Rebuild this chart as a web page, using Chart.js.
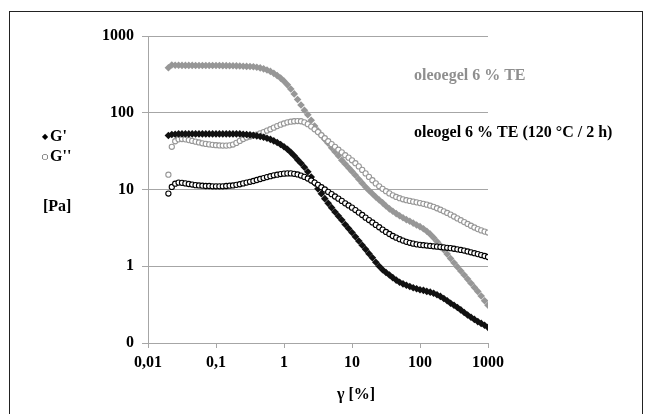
<!DOCTYPE html>
<html>
<head>
<meta charset="utf-8">
<script src="https://cdn.jsdelivr.net/npm/chart.js@4"></script>
<style>
  body { margin: 0; background: #fff; }
  #wrap { position: absolute; left: 0; top: 0; width: 645px; height: 414px; }
  #frame { position: absolute; left: 9px; top: 11px; width: 632px; height: 420px; border: 1px solid #222; }
</style>
</head>
<body>
<div id="frame"></div>
<div id="wrap"><canvas id="mycanvas"></canvas></div>
<script>
// strain amplitude gamma [%]
var strain = [0.01995, 0.02239, 0.02512, 0.02818, 0.03162, 0.03548, 0.03981, 0.04467, 0.05012, 0.05623,
	0.0631, 0.07079, 0.07943, 0.08913, 0.1, 0.1122, 0.1259, 0.1413, 0.1585, 0.1778,
	0.1995, 0.2239, 0.2512, 0.2818, 0.3162, 0.3548, 0.3981, 0.4467, 0.5012, 0.5623,
	0.631, 0.7079, 0.7943, 0.8913, 1, 1.122, 1.259, 1.413, 1.585, 1.778,
	1.995, 2.239, 2.512, 2.818, 3.162, 3.548, 3.981, 4.467, 5.012, 5.623,
	6.31, 7.079, 7.943, 8.913, 10, 11.22, 12.59, 14.13, 15.85, 17.78,
	19.95, 22.39, 25.12, 28.18, 31.62, 35.48, 39.81, 44.67, 50.12, 56.23,
	63.1, 70.79, 79.43, 89.13, 100, 112.2, 125.9, 141.3, 158.5, 177.8,
	199.5, 223.9, 251.2, 281.8, 316.2, 354.8, 398.1, 446.7, 501.2, 562.3,
	631, 707.9, 794.3, 891.3, 1000];

// oleoegel 6 % TE
var te_G1 = [385, 418, 416, 415, 414, 414, 414, 414, 413, 413,
	413, 413, 413, 412, 412, 412, 411, 411, 410, 409,
	408, 406, 404, 402, 400, 397, 392, 384, 373, 361,
	346, 326, 305, 283, 258, 231, 204, 176, 149, 126,
	108, 94, 80, 67, 58, 51, 45, 40, 35, 31,
	27.5, 24, 21.5, 19.2, 17.2, 15.3, 13.6, 12.1, 10.8, 9.7,
	8.8, 8.0, 7.3, 6.7, 6.1, 5.6, 5.2, 4.85, 4.55, 4.28,
	4.05, 3.85, 3.65, 3.45, 3.28, 3.08, 2.86, 2.62, 2.36, 2.10,
	1.86, 1.64, 1.44, 1.26, 1.11, 0.98, 0.87, 0.77, 0.68, 0.60,
	0.53, 0.47, 0.41, 0.355, 0.31];
var te_G2 = [15.6, 36, 42.5, 45, 45.5, 45, 44, 43, 42, 41,
	40, 39.3, 38.7, 38.2, 37.8, 37.5, 37.3, 37.3, 37.6, 38.5,
	40.5, 43, 45.5, 47.5, 49, 50.5, 52, 54, 56, 58.5,
	61, 64, 67, 70, 72.5, 75, 76.5, 77.5, 78, 77.5,
	75, 71, 66, 61, 56, 51, 46.5, 42.5, 39, 36,
	33, 30.5, 28, 26, 24, 22, 20, 18, 16.2, 14.6,
	13.2, 12, 11, 10.2, 9.5, 8.9, 8.4, 8.0, 7.7, 7.45,
	7.25, 7.1, 6.95, 6.8, 6.65, 6.5, 6.35, 6.15, 5.95, 5.7,
	5.45, 5.2, 4.95, 4.7, 4.45, 4.2, 3.98, 3.76, 3.56, 3.37,
	3.2, 3.05, 2.93, 2.83, 2.75];

// oleogel 6 % TE (120 °C / 2 h)
var ht_G1 = [50.5, 52, 52.5, 53, 53, 53, 53, 53, 53, 53,
	53, 53, 53, 53, 53, 53, 53, 53, 53, 53,
	53, 53, 52.5, 52, 51.5, 51, 50, 49, 48, 46.5,
	45, 43, 41, 38.5, 36, 33.5, 30.5, 27.5, 24.5, 22,
	19.5, 17, 14.5, 12.2, 10.2, 8.8, 7.6, 6.6, 5.8, 5.1,
	4.5, 4.0, 3.5, 3.1, 2.75, 2.42, 2.13, 1.88, 1.66, 1.46,
	1.29, 1.13, 1.0, 0.9, 0.83, 0.77, 0.71, 0.66, 0.62, 0.59,
	0.565, 0.545, 0.525, 0.51, 0.495, 0.485, 0.47, 0.46, 0.445, 0.425,
	0.405, 0.38, 0.355, 0.33, 0.31, 0.29, 0.27, 0.25, 0.232, 0.217,
	0.203, 0.19, 0.18, 0.17, 0.16];
var ht_G2 = [8.85, 10.8, 11.9, 12.3, 12.2, 12.0, 11.8, 11.6, 11.4, 11.3,
	11.2, 11.1, 11.1, 11.0, 11.0, 11.0, 11.0, 11.1, 11.2, 11.3,
	11.5, 11.7, 12.0, 12.3, 12.6, 12.9, 13.3, 13.7, 14.1, 14.5,
	14.9, 15.3, 15.6, 15.9, 16.1, 16.2, 16.2, 16.0, 15.7, 15.2,
	14.6, 13.9, 13.1, 12.3, 11.5, 10.7, 10.0, 9.3, 8.7, 8.1,
	7.6, 7.1, 6.6, 6.2, 5.8, 5.4, 5.0, 4.65, 4.3, 4.0,
	3.72, 3.46, 3.22, 3.0, 2.8, 2.63, 2.48, 2.36, 2.25, 2.16,
	2.08, 2.02, 1.97, 1.93, 1.90, 1.88, 1.86, 1.84, 1.82, 1.80,
	1.78, 1.76, 1.74, 1.72, 1.69, 1.66, 1.63, 1.60, 1.56, 1.52,
	1.48, 1.44, 1.40, 1.36, 1.32];

var xTickVals = [0.01, 0.1, 1, 10, 100, 1000];
var xTickLabels = ['0,01', '0,1', '1', '10', '100', '1000'];
var yTickVals = [0.1, 1, 10, 100, 1000];
var yTickLabels = ['0', '1', '10', '100', '1000'];

var grey = '#979797';
var gridColor = '#a6a6a6';
var serif = { family: 'Liberation Serif', weight: 'bold', size: 16 };

function pts(ys) {
	var out = [];
	for (var i in ys) out.push({ x: strain[i], y: ys[i] });
	return out;
}

var notes = {
	id: 'notes',
	afterDraw: function(chart) {
		var ctx = chart.ctx;
		ctx.save();
		ctx.textBaseline = 'middle';
		ctx.font = 'bold 16px "Liberation Serif"';
		ctx.fillStyle = '#8f8f8f';
		ctx.fillText('oleoegel 6 % TE', 414, 76);
		ctx.fillStyle = '#000';
		ctx.fillText('oleogel 6 % TE (120 °C / 2 h)', 414, 133);
		ctx.fillText("G'", 50, 137);
		ctx.fillText("G''", 50, 157);
		ctx.fillText('[Pa]', 43, 207);
		ctx.textAlign = 'center';
		ctx.fillText('γ [%]', 356, 395);
		ctx.font = '8px "DejaVu Sans"';
		ctx.fillText('◆', 45, 137);
		ctx.fillText('○', 45, 157);
		ctx.restore();
	}
};

var chartdata = {
	datasets: [
		{
			label: "G'' (120 °C / 2 h)",
			data: pts(ht_G2),
			showLine: false,
			pointStyle: 'circle',
			pointRadius: 2.6,
			pointBorderWidth: 1.1,
			borderColor: '#000',
			backgroundColor: '#fff'
		},
		{
			label: "G' (120 °C / 2 h)",
			data: pts(ht_G1),
			showLine: false,
			pointStyle: 'rectRot',
			pointRadius: 3.8,
			pointBorderWidth: 0,
			borderColor: '#111',
			backgroundColor: '#111'
		},
		{
			label: "G'' TE",
			data: pts(te_G2),
			showLine: false,
			pointStyle: 'circle',
			pointRadius: 2.6,
			pointBorderWidth: 1.1,
			borderColor: grey,
			backgroundColor: '#fff'
		},
		{
			label: "G' TE",
			data: pts(te_G1),
			showLine: false,
			pointStyle: 'rectRot',
			pointRadius: 3.8,
			pointBorderWidth: 0,
			borderColor: grey,
			backgroundColor: grey
		}
	]
};

var ctx = document.getElementById('mycanvas');

var graph = new Chart(ctx, {
	type: 'scatter',
	data: chartdata,
	plugins: [notes],
	options: {
		responsive: true,
		maintainAspectRatio: false,
		animation: false,
		layout: { autoPadding: false, padding: { left: 0, right: 157, top: 36, bottom: 0 } },
		plugins: { legend: { display: false }, tooltip: { enabled: false } },
		scales: {
			x: {
				type: 'logarithmic',
				min: 0.01,
				max: 1000,
				afterFit: function(s) { s.height = 71; },
				afterBuildTicks: function(s) { s.ticks = xTickVals.map(function(v) { return { value: v }; }); },
				ticks: {
					autoSkip: false,
					maxRotation: 0,
					padding: 5,
					color: '#000',
					font: serif,
					callback: function(v, i) { return xTickLabels[i]; }
				},
				grid: { drawOnChartArea: false, tickLength: 5, color: gridColor },
				border: { color: gridColor, width: 1 }
			},
			y: {
				type: 'logarithmic',
				min: 0.1,
				max: 1000,
				afterFit: function(s) { s.width = 148; },
				afterBuildTicks: function(s) { s.ticks = yTickVals.map(function(v) { return { value: v }; }); },
				ticks: {
					padding: 8,
					color: '#000',
					font: serif,
					callback: function(v, i) { return yTickLabels[i]; }
				},
				grid: { tickLength: 6, color: gridColor, lineWidth: 1 },
				border: { color: gridColor, width: 1 }
			}
		}
	}
});
</script>
</body>
</html>
